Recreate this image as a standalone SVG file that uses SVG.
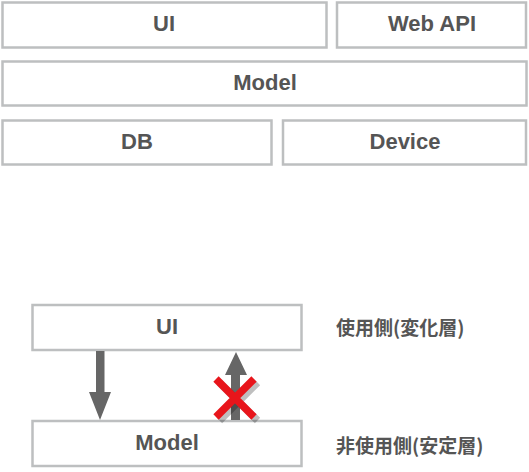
<svg xmlns="http://www.w3.org/2000/svg" width="529" height="472" viewBox="0 0 529 472">
<style>
.box{fill:#fff;stroke:#bdbfc0;stroke-width:2.5}
.lbl{font-family:"Liberation Sans",Arial,sans-serif;font-weight:bold;font-size:22px;fill:#555;text-anchor:middle;dominant-baseline:central}
.jp{font-family:"Noto Sans CJK JP",sans-serif;font-weight:bold;font-size:19px;fill:#555;dominant-baseline:central}
.arr{fill:#666}
</style>
<rect width="529" height="472" fill="#fff"/>
<g id="ui-top"><rect class="box" x="2.5" y="2.5" width="324" height="45"/><text class="lbl" x="164" y="23">UI</text></g>
<g id="webapi"><rect class="box" x="337" y="2.5" width="189" height="45"/><text class="lbl" x="432" y="23">Web API</text></g>
<g id="model-top"><rect class="box" x="2.5" y="61.5" width="524" height="44"/><text class="lbl" x="265" y="82">Model</text></g>
<g id="db"><rect class="box" x="2.5" y="120.5" width="269" height="44"/><text class="lbl" x="137" y="141">DB</text></g>
<g id="device"><rect class="box" x="283" y="120.5" width="243" height="44"/><text class="lbl" x="405" y="141">Device</text></g>
<g id="ui-bottom"><rect class="box" x="32.5" y="305" width="269" height="45"/><text class="lbl" x="167" y="326">UI</text></g>
<g id="model-bottom"><rect class="box" x="32.5" y="421" width="269" height="45"/><text class="lbl" x="167" y="442">Model</text></g>
<g id="label-change"><text class="jp" x="336" y="326">使用側(変化層)</text></g>
<g id="label-stable"><text class="jp" x="336" y="444">非使用側(安定層)</text></g>
<g id="connectors">
<polygon class="arr" points="96,351 104.5,351 104.5,392 111,392 100,420 89,392 96,392"/>
<polygon class="arr" points="231,420 240,420 240,375 247,375 236,352 225,375 231,375"/>
<g stroke-linecap="butt" stroke-width="7.5">
<path d="M218,381 L256,419 M256,381 L218,419" stroke="#000" stroke-opacity="0.25" transform="translate(1.5,1.5)"/>
<path d="M216,379 L254,417 M254,379 L216,417" stroke="#e8151b"/>
</g>
</g>
</svg>
